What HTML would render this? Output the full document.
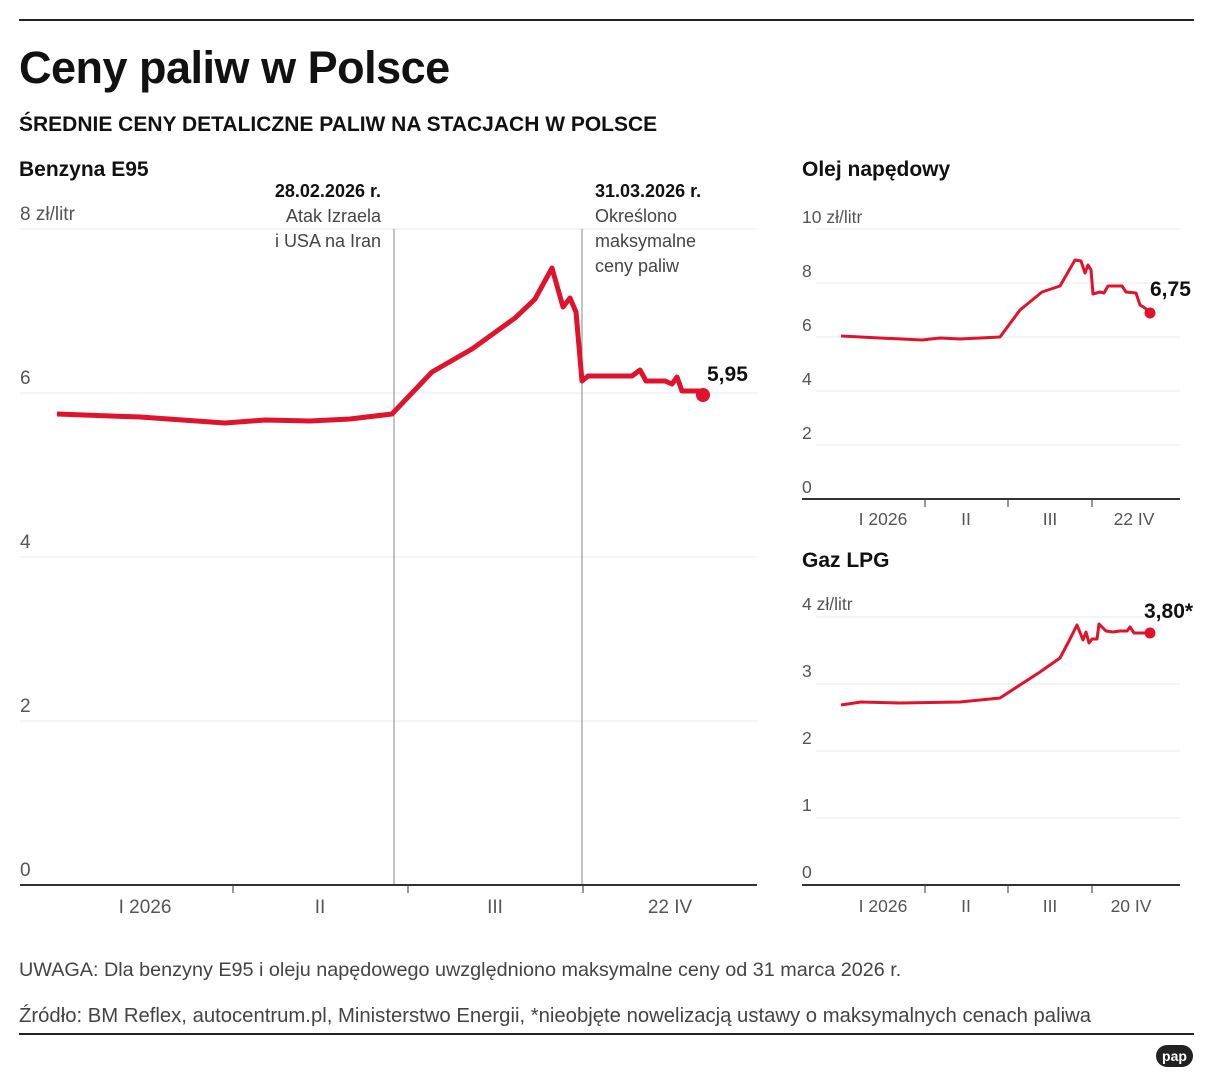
<!DOCTYPE html>
<html><head><meta charset="utf-8"><style>
body{margin:0;background:#fff;}
svg text{font-family:"Liberation Sans",sans-serif;}
</style></head><body>
<svg width="1213" height="1080" viewBox="0 0 1213 1080" xmlns="http://www.w3.org/2000/svg">
<rect width="1213" height="1080" fill="#fff"/>
<line x1="19" y1="20" x2="1194" y2="20" stroke="#222" stroke-width="2"/>
<text x="19" y="83" font-size="45" font-weight="bold" fill="#111" letter-spacing="-0.5">Ceny paliw w Polsce</text>
<text x="19" y="131" font-size="21" font-weight="bold" fill="#111">ŚREDNIE CENY DETALICZNE PALIW NA STACJACH W POLSCE</text>
<text x="19" y="176" font-size="21" font-weight="bold" fill="#111">Benzyna E95</text>
<g font-size="19" fill="#555">
<text x="20" y="220">8 zł/litr</text><text x="20" y="384">6</text><text x="20" y="548">4</text><text x="20" y="712">2</text><text x="20" y="876">0</text>
</g>
<g stroke="#e8e8e8" stroke-width="1">
<line x1="20" y1="229" x2="757" y2="229"/><line x1="20" y1="393" x2="757" y2="393"/><line x1="20" y1="557" x2="757" y2="557"/><line x1="20" y1="721" x2="757" y2="721"/>
</g>
<line x1="394" y1="229" x2="394" y2="885" stroke="#888"/>
<line x1="582" y1="229" x2="582" y2="885" stroke="#888"/>
<text x="381" y="197" font-size="18" font-weight="bold" text-anchor="end" fill="#111">28.02.2026 r.</text>
<text x="381" y="222" font-size="18" text-anchor="end" fill="#444">Atak Izraela</text>
<text x="381" y="247" font-size="18" text-anchor="end" fill="#444">i USA na Iran</text>
<text x="595" y="197" font-size="18" font-weight="bold" fill="#111">31.03.2026 r.</text>
<text x="595" y="222" font-size="18" fill="#444">Określono</text>
<text x="595" y="247" font-size="18" fill="#444">maksymalne</text>
<text x="595" y="272" font-size="18" fill="#444">ceny paliw</text>
<line x1="20" y1="885" x2="757" y2="885" stroke="#333" stroke-width="2"/>
<g stroke="#333"><line x1="233" y1="885" x2="233" y2="893"/><line x1="408" y1="885" x2="408" y2="893"/><line x1="583" y1="885" x2="583" y2="893"/></g>
<g font-size="19" fill="#555" text-anchor="middle">
<text x="145" y="913">I 2026</text><text x="320" y="913">II</text><text x="495" y="913">III</text><text x="670" y="913">22 IV</text>
</g>
<polyline fill="none" stroke="#e0132c" stroke-width="5" stroke-linejoin="round" points="57,414 140,417 225,423 265,420 310,421 350,419 392,414 432,372 472,349 515,318 535,299 552,268 563,307 570,298 576,312 582,381 588,376 632,376 640,370 646,381 665,381 672,384 677,377 682,391 702,391 702,395"/>
<circle cx="703" cy="395" r="7" fill="#e0132c"/>
<text x="707" y="381" font-size="21" font-weight="bold" fill="#111">5,95</text>

<text x="802" y="176" font-size="21" font-weight="bold" fill="#111">Olej napędowy</text>
<g font-size="17.5" fill="#555">
<text x="802" y="223">10 zł/litr</text><text x="802" y="277">8</text><text x="802" y="331">6</text><text x="802" y="385">4</text><text x="802" y="439">2</text><text x="802" y="493">0</text>
</g>
<g stroke="#e8e8e8"><line x1="816" y1="229" x2="1180" y2="229"/><line x1="816" y1="283" x2="1180" y2="283"/><line x1="816" y1="337" x2="1180" y2="337"/><line x1="816" y1="391" x2="1180" y2="391"/><line x1="816" y1="445" x2="1180" y2="445"/></g>
<line x1="802" y1="499" x2="1180" y2="499" stroke="#333" stroke-width="2"/>
<g stroke="#333"><line x1="925" y1="499" x2="925" y2="507"/><line x1="1008" y1="499" x2="1008" y2="507"/><line x1="1092" y1="499" x2="1092" y2="507"/></g>
<g font-size="17.5" fill="#555" text-anchor="middle"><text x="883" y="525">I 2026</text><text x="966" y="525">II</text><text x="1050" y="525">III</text><text x="1134" y="525">22 IV</text></g>
<polyline fill="none" stroke="#e0132c" stroke-width="3" stroke-linejoin="round" points="841,336 880,338 922,340 940,338 960,339 1000,337 1020,310 1042,292 1060,286 1075,260 1081,261 1085,273 1088,265 1091,270 1093,294 1100,292 1104,293 1108,286 1122,286 1126,292 1136,293 1140,305 1145,308 1150,313"/>
<circle cx="1150" cy="313" r="5.5" fill="#e0132c"/>
<text x="1150" y="296" font-size="21" font-weight="bold" fill="#111">6,75</text>

<text x="802" y="567" font-size="21" font-weight="bold" fill="#111">Gaz LPG</text>
<g font-size="17.5" fill="#555">
<text x="802" y="610">4 zł/litr</text><text x="802" y="677">3</text><text x="802" y="744">2</text><text x="802" y="811">1</text><text x="802" y="878">0</text>
</g>
<g stroke="#e8e8e8"><line x1="816" y1="617" x2="1180" y2="617"/><line x1="816" y1="684" x2="1180" y2="684"/><line x1="816" y1="751" x2="1180" y2="751"/><line x1="816" y1="818" x2="1180" y2="818"/></g>
<line x1="802" y1="885" x2="1180" y2="885" stroke="#333" stroke-width="2"/>
<g stroke="#333"><line x1="925" y1="885" x2="925" y2="893"/><line x1="1008" y1="885" x2="1008" y2="893"/><line x1="1092" y1="885" x2="1092" y2="893"/></g>
<g font-size="17.5" fill="#555" text-anchor="middle"><text x="883" y="912">I 2026</text><text x="966" y="912">II</text><text x="1050" y="912">III</text><text x="1131" y="912">20 IV</text></g>
<polyline fill="none" stroke="#e0132c" stroke-width="3" stroke-linejoin="round" points="841,705 861,702 900,703 960,702 970,701 1000,698 1040,672 1060,658 1070,639 1077,625 1083,640 1086,632 1089,643 1092,639 1097,639 1099,624 1106,631 1113,632 1120,631 1127,631 1130,627 1134,633 1150,633"/>
<circle cx="1150" cy="633" r="5.5" fill="#e0132c"/>
<text x="1144" y="618" font-size="21" font-weight="bold" fill="#111">3,80*</text>

<text x="19" y="976" font-size="19.8" fill="#444">UWAGA: Dla benzyny E95 i oleju napędowego uwzględniono maksymalne ceny od 31 marca 2026 r.</text>
<text x="19" y="1022" font-size="20.3" fill="#444">Źródło: BM Reflex, autocentrum.pl, Ministerstwo Energii, *nieobjęte nowelizacją ustawy o maksymalnych cenach paliwa</text>
<line x1="19" y1="1034" x2="1194" y2="1034" stroke="#222" stroke-width="2"/>
<rect x="1156" y="1045" width="37" height="22" rx="11" fill="#222"/>
<text x="1174.5" y="1061" font-size="14" font-weight="bold" fill="#fff" text-anchor="middle">pap</text>
</svg>
</body></html>
